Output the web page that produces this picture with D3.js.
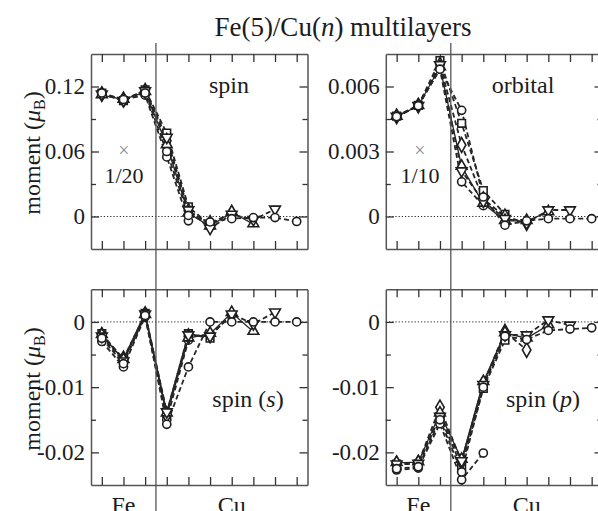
<!DOCTYPE html>
<html><head><meta charset="utf-8">
<script src="https://cdn.jsdelivr.net/npm/d3@7"></script>
<style>body{margin:0;background:#fff} svg{display:block}</style>
</head><body>
<svg id="c" width="598" height="511"></svg>
<script>
// ---------------- DATA ----------------
const layers = [0,1,2,3,4,5,6,7,8,9];           // Fe: 0-2, Cu: 3-9
const seriesNames = ["n3","n5","n7","n9","n11","n13"];
const seriesSymbols = ["circle","square","diamond","triangle","triangleDown","circle"];

const spinTotal = [
  [0.113,0.108,0.112,0.055,-0.004],
  [0.114,0.107,0.117,0.077,0.009,-0.008],
  [0.113,0.108,0.116,0.070,0.005,-0.006,0.003],
  [0.112,0.108,0.115,0.066,0.003,-0.009,0.004,-0.007],
  [0.113,0.107,0.116,0.073,0.006,-0.011,0.002,-0.003,0.0067],
  [0.114,0.108,0.114,0.060,0.001,-0.005,-0.002,-0.001,-0.001,-0.0046]
];
const orbital = [
  [0.00462,0.00512,0.0068,0.0016,0.0005],
  [0.00463,0.00513,0.0072,0.0043,0.0012,0.0001],
  [0.00462,0.00512,0.0070,0.0033,0.0008,0.0000,-0.0003],
  [0.00461,0.00511,0.0069,0.0023,0.0006,-0.0002,-0.0002,0.0002],
  [0.00462,0.00512,0.0070,0.0021,0.0007,-0.0001,-0.0003,0.0003,0.0003],
  [0.00461,0.00511,0.0068,0.0049,0.0009,-0.0004,-0.0002,-0.0001,-0.0001,-0.0001]
];
const spinS = [
  [-0.0030,-0.0069,0.0008,-0.0150,-0.0028],
  [-0.0018,-0.0058,0.0013,-0.0140,-0.0018,-0.0025],
  [-0.0020,-0.0056,0.0012,-0.0143,-0.0022,-0.0020,0.0010],
  [-0.0020,-0.0058,0.0011,-0.0140,-0.0025,-0.0018,0.0014,-0.0015],
  [-0.0022,-0.0060,0.0012,-0.0138,-0.0020,-0.0022,0.0012,-0.0003,0.0015],
  [-0.0025,-0.0064,0.0010,-0.0157,-0.0069,0.0000,0.0000,0.0000,0.0000,0.0000]
];
const spinP = [
  [-0.0227,-0.0224,-0.0156,-0.0242,-0.0201],
  [-0.0218,-0.0218,-0.0145,-0.0222,-0.0102,-0.0028],
  [-0.0217,-0.0216,-0.0131,-0.0215,-0.0095,-0.0015,-0.0043],
  [-0.0216,-0.0215,-0.0140,-0.0211,-0.0092,-0.0017,-0.0025,-0.0005],
  [-0.0218,-0.0217,-0.0145,-0.0213,-0.0096,-0.0020,-0.0020,0.0003,-0.0005],
  [-0.0225,-0.0222,-0.0150,-0.0230,-0.0100,-0.0022,-0.0027,-0.0013,-0.0011,-0.0009]
];

const ticksSpin = [0, 0.06, 0.12];      const labelsSpin = ["0","0.06","0.12"];
const minorSpin = [0.03, 0.09];
const ticksOrb = [0, 0.003, 0.006];     const labelsOrb = ["0","0.003","0.006"];
const minorOrb = [0.0015, 0.0045];
const ticksSP = [-0.02, -0.01, 0];      const labelsSP = ["-0.02","-0.01","0"];
const minorSP = [-0.015, -0.005];
const sectionLabels = ["Fe","Cu"];

// ---------------- DRAW ----------------
const svg = d3.select("#c");
const FONT = "'Liberation Serif','Times New Roman',serif";
const INK = "#1b1b22";

const colX = [[91, 307.5], [385.8, 602.5]];
const rowY = [[249, 54], [485, 289.3]];

const panels = [
  {data: spinTotal, col:0, row:0, dom:[-0.03,0.15], ticks:ticksSpin, labels:labelsSpin, minor:minorSpin},
  {data: orbital,   col:1, row:0, dom:[-0.0015,0.0075], ticks:ticksOrb, labels:labelsOrb, minor:minorOrb},
  {data: spinS,     col:0, row:1, dom:[-0.025,0.005], ticks:ticksSP, labels:labelsSP, minor:minorSP},
  {data: spinP,     col:1, row:1, dom:[-0.025,0.005], ticks:ticksSP, labels:labelsSP, minor:minorSP}
];

const symMap = {circle:d3.symbolCircle, square:d3.symbolSquare, diamond:d3.symbolDiamond,
                triangle:d3.symbolTriangle, triangleDown:d3.symbolTriangle};
const symSize = {circle:52, square:58, diamond:62, triangle:50, triangleDown:50};
const dashes = ["5,3","5,3","5,3",null,"5,3","5,3"];

panels.forEach(p => {
  const [xl, xr] = colX[p.col];
  const [yb, yt] = rowY[p.row];
  const x = d3.scaleLinear().domain([-0.5, 9.5]).range([xl, xr]);
  const y = d3.scaleLinear().domain(p.dom).range([yb, yt]);
  const g = svg.append("g");

  // zero dotted line
  g.append("line").attr("x1", xl).attr("x2", xr).attr("y1", y(0)).attr("y2", y(0))
    .attr("stroke", "#222").attr("stroke-width", 1).attr("stroke-dasharray", "1.2,2");

  // axes with inward ticks
  const styleAxis = sel => {
    sel.select(".domain").attr("stroke", "#555").attr("stroke-width", 1.5);
    sel.selectAll(".tick line").attr("stroke", "#333").attr("stroke-width", 1.3);
  };
  const fmt = v => p.labels[p.ticks.indexOf(v)];
  g.append("g").attr("transform", `translate(${xl},0)`)
    .call(d3.axisLeft(y).tickValues(p.ticks).tickSize(-8).tickSizeOuter(0).tickPadding(5).tickFormat(fmt))
    .call(styleAxis)
    .call(s => s.selectAll("text").attr("font-family", FONT).attr("font-size", 23).attr("fill", INK).attr("dx", -1));
  g.append("g").attr("transform", `translate(${xl},0)`)
    .call(d3.axisLeft(y).tickValues(p.minor).tickSize(-5).tickFormat(""))
    .call(s => s.select(".domain").remove())
    .call(s => s.selectAll(".tick line").attr("stroke", "#333").attr("stroke-width", 1.3));
  g.append("g").attr("transform", `translate(${xr},0)`)
    .call(d3.axisRight(y).tickValues(p.ticks).tickSize(-8).tickSizeOuter(0).tickFormat(""))
    .call(styleAxis);
  g.append("g").attr("transform", `translate(${xr},0)`)
    .call(d3.axisRight(y).tickValues(p.minor).tickSize(-5).tickFormat(""))
    .call(s => s.select(".domain").remove())
    .call(s => s.selectAll(".tick line").attr("stroke", "#333").attr("stroke-width", 1.3));
  g.append("g").attr("transform", `translate(0,${yb})`)
    .call(d3.axisBottom(x).tickValues(layers).tickSize(-8).tickSizeOuter(0).tickFormat(""))
    .call(styleAxis);
  g.append("g").attr("transform", `translate(0,${yt})`)
    .call(d3.axisTop(x).tickValues(layers).tickSize(-8).tickSizeOuter(0).tickFormat(""))
    .call(styleAxis);

  // lines
  const line = d3.line().x((d,i) => x(layers[i])).y(d => y(d));
  p.data.forEach((s, k) => {
    g.append("path").attr("d", line(s)).attr("fill", "none")
      .attr("stroke", "#262626").attr("stroke-width", dashes[k] ? 1.8 : 1.3)
      .attr("stroke-dasharray", dashes[k]);
  });
  // markers
  p.data.forEach((s, k) => {
    const name = seriesSymbols[k];
    const sym = d3.symbol().type(symMap[name]).size(symSize[name]);
    g.selectAll(null).data(s).enter().append("path")
      .attr("d", sym)
      .attr("transform", (d,i) => `translate(${x(layers[i])},${y(d) + (name==="triangle"? -0.5 : 0)})${name==="triangleDown" ? " rotate(180)" : ""}`)
      .attr("fill", "#fff").attr("stroke", "#1e1e1e").attr("stroke-width", 1.6);
  });

  // section labels at bottom (cut by the lower edge, as in the reference)
  if (p.row === 1) {
    g.append("text").attr("x", x(1)).attr("y", 513).attr("text-anchor", "middle")
      .attr("font-family", FONT).attr("font-size", 24).attr("fill", INK).text(sectionLabels[0]);
    g.append("text").attr("x", x(6)).attr("y", 513).attr("text-anchor", "middle")
      .attr("font-family", FONT).attr("font-size", 24).attr("fill", INK).text(sectionLabels[1]);
  }
});

// Fe/Cu interface vertical lines
[0,1].forEach(c => {
  const x = d3.scaleLinear().domain([-0.5, 9.5]).range(colX[c]);
  svg.append("line").attr("x1", x(2.5)).attr("x2", x(2.5)).attr("y1", 43).attr("y2", 511)
    .attr("stroke", "#555").attr("stroke-width", 1.3);
});

// annotations
const txt = (t, xx, yy, size, fill) => svg.append("text").attr("x", xx).attr("y", yy)
  .attr("text-anchor", "middle").attr("font-family", FONT).attr("font-size", size).attr("fill", fill || INK).text(t);

// title
const title = svg.append("text").attr("x", 343).attr("y", 36).attr("text-anchor", "middle")
  .attr("font-family", FONT).attr("font-size", 27).attr("fill", INK);
title.append("tspan").text("Fe(5)/Cu(");
title.append("tspan").attr("font-style", "italic").text("n");
title.append("tspan").text(") multilayers");

txt("spin", 229, 93, 24);
txt("orbital", 523, 93, 24);
txt("×", 124, 157, 20, "#8a8f99");
txt("1/20", 124, 183, 22);
txt("×", 420, 157, 20, "#8a8f99");
txt("1/10", 420, 183, 22);

const sS = svg.append("text").attr("x", 248).attr("y", 407).attr("text-anchor", "middle")
  .attr("font-family", FONT).attr("font-size", 24).attr("fill", INK);
sS.append("tspan").text("spin (");
sS.append("tspan").attr("font-style", "italic").text("s");
sS.append("tspan").text(")");
const sP = svg.append("text").attr("x", 543).attr("y", 407).attr("text-anchor", "middle")
  .attr("font-family", FONT).attr("font-size", 24).attr("fill", INK);
sP.append("tspan").text("spin (");
sP.append("tspan").attr("font-style", "italic").text("p");
sP.append("tspan").text(")");

// y labels
[[153],[389]].forEach(([cy]) => {
  const t = svg.append("text").attr("transform", `translate(40,${cy}) rotate(-90)`)
    .attr("text-anchor", "middle").attr("font-family", FONT).attr("font-size", 24).attr("fill", INK);
  t.append("tspan").text("moment  (");
  t.append("tspan").attr("font-style", "italic").text("μ");
  t.append("tspan").attr("font-size", 16).attr("dy", 5).text("B");
  t.append("tspan").attr("dy", -5).text(")");
});
</script>
</body></html>
